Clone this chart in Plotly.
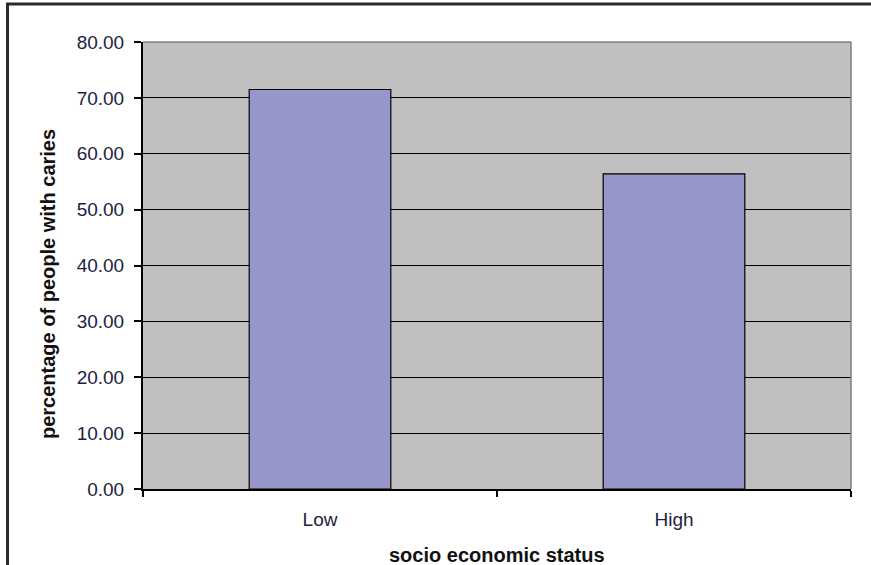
import plotly.graph_objects as go

categories = ["Low", "High"]
values = [71.5, 56.4]
y_ticks = [0, 10, 20, 30, 40, 50, 60, 70, 80]
x_title = "socio economic status"
y_title = "percentage of people with caries"

W, H = 871, 565
L, R, T, B = 143, 20, 42, 76
pw, ph = W - L - R, H - T - B

def px_x(x):
    return (x - L) / pw

def px_y(y):
    return (H - B - y) / ph

FONT = "Liberation Sans, Arial, sans-serif"
TICK_COLOR = "#1e1e40"

fig = go.Figure()
fig.add_trace(go.Bar(
    x=categories, y=values,
    marker=dict(color="#9696C8", line=dict(color="#000000", width=1.2)),
    width=0.4,
))

fig.update_layout(
    width=W, height=H,
    margin=dict(l=L, r=R, t=T, b=B, pad=0),
    paper_bgcolor="#FFFFFF",
    plot_bgcolor="#C0C0C0",
    showlegend=False,
    font=dict(family=FONT, color=TICK_COLOR, size=19),
    xaxis=dict(
        type="category",
        tickson="boundaries",
        ticks="outside", ticklen=6, tickwidth=1.5, tickcolor="#000",
        showline=True, linecolor="#000", linewidth=2,
        showgrid=False,
        tickfont=dict(family=FONT, size=19, color=TICK_COLOR),
        ticklabelstandoff=12,
    ),
    yaxis=dict(
        range=[0, 80],
        tickvals=y_ticks,
        tickformat=".2f",
        ticks="outside", ticklen=7, tickwidth=1.5, tickcolor="#000",
        showline=True, linecolor="#000", linewidth=2,
        showgrid=True, gridcolor="#000000", gridwidth=1,
        zeroline=False,
        tickfont=dict(family=FONT, size=19, color=TICK_COLOR),
        ticklabelstandoff=6,
    ),
    shapes=[
        dict(type="line", xref="paper", yref="paper", x0=0, x1=1, y0=1, y1=1,
             line=dict(color="#808080", width=1.5), layer="above"),
        dict(type="line", xref="paper", yref="paper", x0=1, x1=1, y0=0, y1=1,
             line=dict(color="#808080", width=1.5), layer="above"),
        dict(type="line", xref="paper", yref="paper",
             x0=px_x(6), x1=px_x(871), y0=px_y(4), y1=px_y(4),
             line=dict(color="#2b2b2b", width=3)),
        dict(type="line", xref="paper", yref="paper",
             x0=px_x(7.5), x1=px_x(7.5), y0=px_y(3), y1=px_y(565),
             line=dict(color="#2b2b2b", width=3)),
    ],
    annotations=[
        dict(text=f"<b>{x_title}</b>", xref="paper", yref="paper",
             x=px_x(497), y=px_y(555), xanchor="center", yanchor="middle",
             showarrow=False, font=dict(family=FONT, size=20, color="#111")),
        dict(text=f"<b>{y_title}</b>", xref="paper", yref="paper",
             x=px_x(48), y=px_y(284), xanchor="center", yanchor="middle",
             textangle=-90,
             showarrow=False, font=dict(family=FONT, size=20, color="#111")),
    ],
)

fig.write_html("out.html")
